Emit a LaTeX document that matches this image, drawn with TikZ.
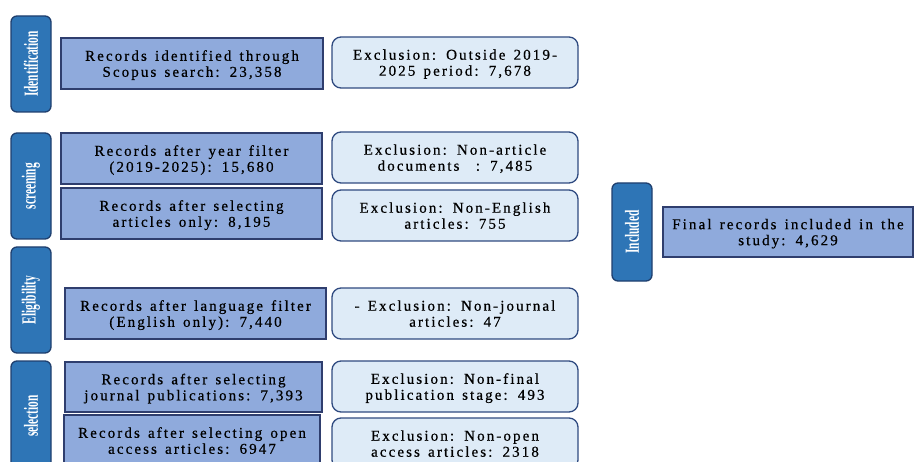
\documentclass[tikz,border=0pt]{standalone}
\usepackage{fontspec}
\setmainfont{Liberation Serif}[LetterSpace=14, WordSpace=1.4, FakeBold=0.6]
\newfontfamily\barfont{Liberation Serif}[FakeStretch=0.57]
\definecolor{barblue}{RGB}{46,117,182}
\definecolor{barline}{RGB}{31,63,110}
\definecolor{recblue}{RGB}{143,170,220}
\definecolor{recline}{RGB}{47,62,110}
\definecolor{excblue}{RGB}{222,235,247}
\definecolor{excline}{RGB}{47,74,128}
\begin{document}
\begin{tikzpicture}
        [x=1pt, y=-1pt,
        phasebar/.style={rectangle, rounded corners=6pt, draw=barline, line width=1.3pt,
            fill=barblue, text=white, rotate=90, minimum height=40pt,
            font=\barfont\bfseries\fontsize{20}{21}\selectfont, inner sep=0pt},
        recbox/.style={rectangle, draw=recline, line width=1.4pt, fill=recblue,
            minimum height=51pt, align=center, inner sep=0pt, text depth=-2pt,
            font=\fontsize{15}{16}\selectfont},
        excbox/.style={rectangle, rounded corners=9pt, draw=excline, line width=1.3pt,
            fill=excblue, minimum width=246pt, minimum height=51pt, align=center,
            inner sep=0pt, text depth=-2pt, font=\fontsize{15}{16}\selectfont},]

        \useasboundingbox (0,0) rectangle (915,462);
        \clip (0,0) rectangle (915,462);

        % phase bars
        \node[phasebar, minimum width=96pt] (ident) at (31,64) {Identification};
        \node[phasebar, minimum width=106pt] (screen) at (31,186) {screening};
        \node[phasebar, minimum width=106pt] (elig) at (31,300) {Eligibility};
        \node[phasebar, minimum width=110pt] (select) at (31,416) {selection};
        \node[phasebar, minimum width=98pt] (incl) at (632,232) {Included};

        % records
        \node[recbox, minimum width=262pt] (rec1) at (192,63.5)
            {Records identified through\\Scopus search: 23,358};
        \node[recbox, minimum width=261pt] (rec2) at (191.5,158.5)
            {Records after year filter\\(2019-2025): 15,680};
        \node[recbox, minimum width=261pt] (rec3) at (191.5,213.5)
            {Records after selecting\\articles only: 8,195};
        \node[recbox, minimum width=261pt] (rec4) at (195.5,313.5)
            {Records after language filter\\(English only): 7,440};
        \node[recbox, minimum width=257pt, minimum height=50pt] (rec5) at (193.5,387)
            {Records after selecting\\journal publications: 7,393};
        \node[recbox, minimum width=256pt] (rec6) at (192,440.5)
            {Records after selecting open\\access articles: 6947};
        \node[recbox, minimum width=250pt, minimum height=50pt] (final) at (788,232)
            {Final records included in the\\study: 4,629};

        % exclusions
        \node[excbox] (exc1) at (455,62.5) {Exclusion: Outside 2019-\\2025 period: 7,678};
        \node[excbox] (exc2) at (455,157.5) {Exclusion: Non-article\\documents\ \ : 7,485};
        \node[excbox] (exc3) at (455,215.5) {Exclusion: Non-English\\articles: 755};
        \node[excbox] (exc4) at (455,313.5) {- Exclusion: Non-journal\\articles: 47};
        \node[excbox] (exc5) at (455,386.5) {Exclusion: Non-final\\publication stage: 493};
        \node[excbox] (exc6) at (455,443.5) {Exclusion: Non-open\\access articles: 2318};

    \end{tikzpicture}
\end{document}
